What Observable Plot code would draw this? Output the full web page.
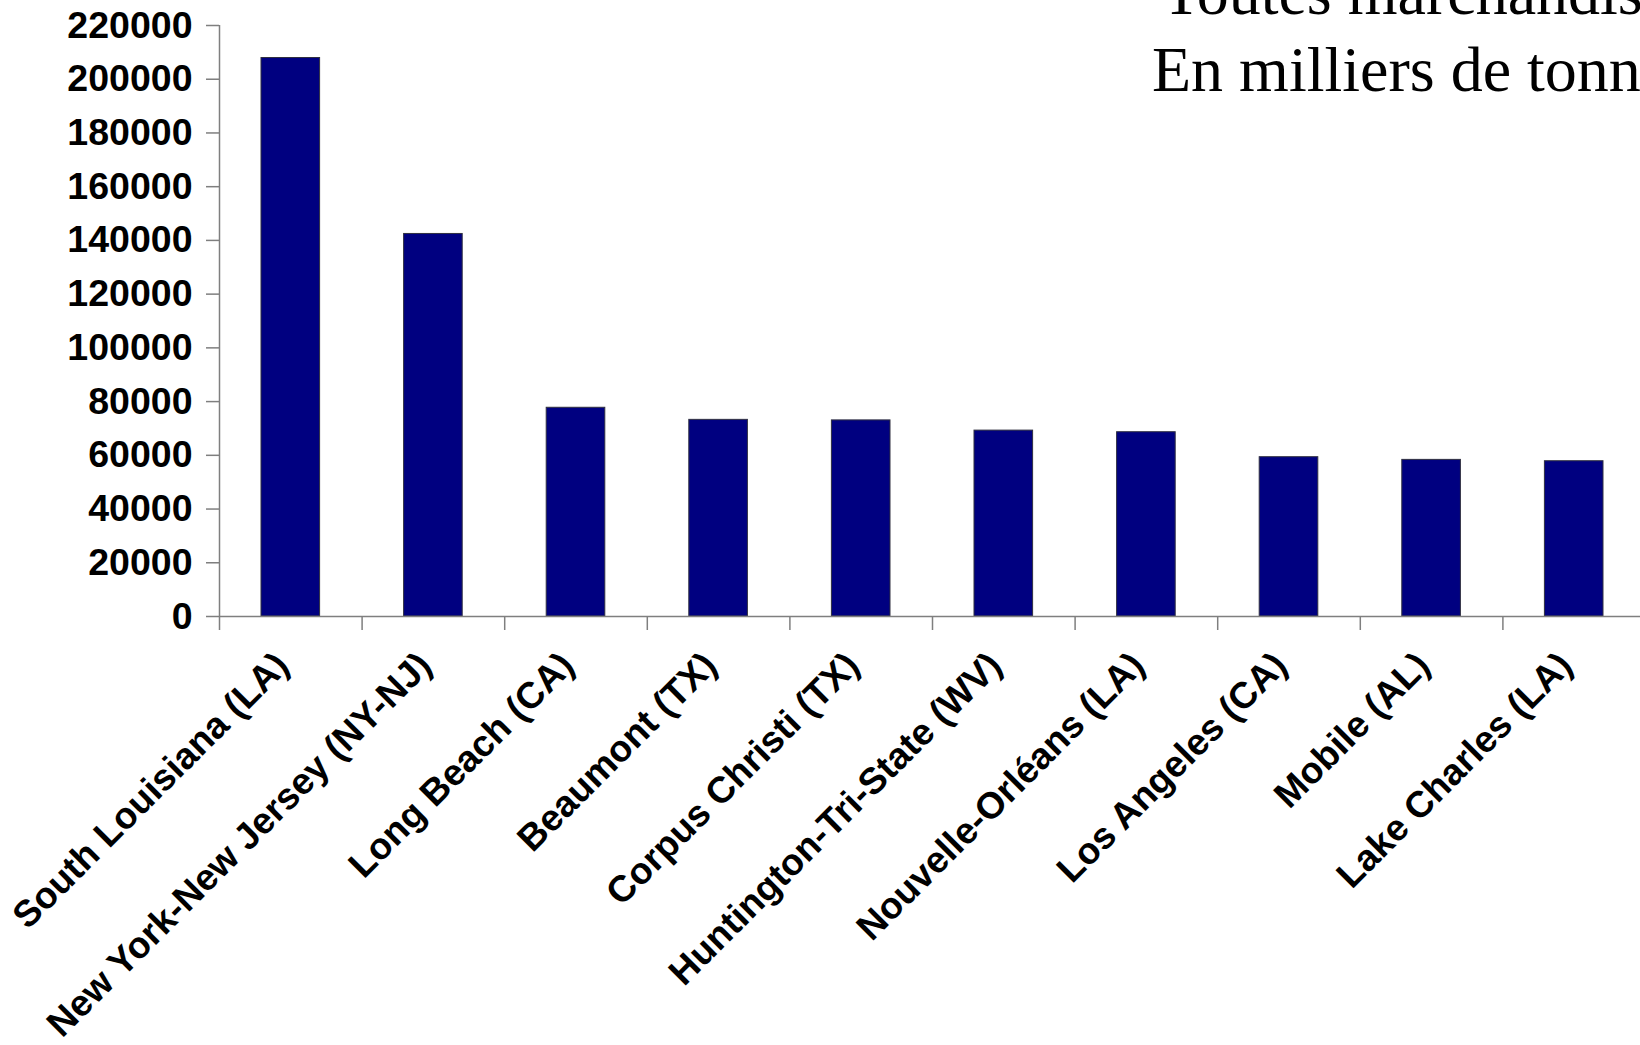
<!DOCTYPE html>
<html>
<head>
<meta charset="utf-8">
<script src="https://cdn.jsdelivr.net/npm/d3@7"></script>
<script src="https://cdn.jsdelivr.net/npm/@observablehq/plot@0.6"></script>
<style>
html, body { margin: 0; padding: 0; background: #fff; overflow: hidden; width: 1640px; height: 1045px; }
#wrap { position: relative; width: 1640px; height: 1045px; overflow: hidden; }
.t { position: absolute; font-family: "Liberation Serif", "Times New Roman", serif; font-size: 64px; line-height: 1; white-space: nowrap; color: #000; }
#t1 { left: 1162px; top: -39px; }
#t2 { left: 1152px; top: 38px; }
</style>
</head>
<body>
<div id="wrap">
  <div id="chart"></div>
  <div class="t" id="t1">Toutes marchandises</div>
  <div class="t" id="t2">En milliers de tonnes</div>
</div>
<script>
// Ports (categories) and tonnage (thousands of tonnes)
const ports = [
  "South Louisiana (LA)",
  "New York-New Jersey (NY-NJ)",
  "Long Beach (CA)",
  "Beaumont (TX)",
  "Corpus Christi (TX)",
  "Huntington-Tri-State (WV)",
  "Nouvelle-Orléans (LA)",
  "Los Angeles (CA)",
  "Mobile (AL)",
  "Lake Charles (LA)"
];
const tonnages = [207900, 142400, 77700, 73200, 73000, 69200, 68600, 59300, 58300, 57800];
const yTicks = [0, 20000, 40000, 60000, 80000, 100000, 120000, 140000, 160000, 180000, 200000, 220000];

const data = ports.map((port, i) => ({i, port, value: tonnages[i]}));
const xTicks = d3.range(0, ports.length + 1);

const sans = "'Liberation Sans', Arial, Helvetica, sans-serif";
const axisGray = "#7f7f7f";

const chart = Plot.plot({
  width: 1640,
  height: 1045,
  marginLeft: 219,
  marginRight: -5,
  marginTop: 25,
  marginBottom: 429,
  x: {domain: [0, ports.length], axis: null},
  y: {domain: [0, 220000], axis: null},
  style: {background: "white", color: "black", fontFamily: sans, overflow: "visible"},
  marks: [
    Plot.rectY(data, {
      x1: d => d.i, x2: d => d.i + 1, y: "value",
      fill: "#000080", stroke: "#303040", strokeWidth: 1,
      insetLeft: 42, insetRight: 42
    }),
    Plot.ruleX([0], {stroke: axisGray, strokeWidth: 1.5}),
    Plot.ruleY([0], {stroke: axisGray, strokeWidth: 1.5}),
    Plot.axisY({
      ticks: yTicks, tickSize: 13, tickPadding: 14, label: null,
      tickFormat: d3.format("d"),
      stroke: axisGray, strokeWidth: 1.5,
      fontSize: 37.5, fontWeight: "bold", fontFamily: sans, fill: "black"
    }),
    Plot.axisX({
      ticks: xTicks, tickSize: 14, tickFormat: () => "", label: null,
      stroke: axisGray, strokeWidth: 1.5
    }),
    Plot.text(data, {
      x: d => d.i + 0.5, y: 0, text: "port",
      rotate: -45, textAnchor: "end", lineAnchor: "bottom",
      dy: 51,
      fontSize: 37, fontWeight: "bold", fontFamily: sans, fill: "black"
    })
  ]
});
document.getElementById("chart").appendChild(chart);
</script>
</body>
</html>
